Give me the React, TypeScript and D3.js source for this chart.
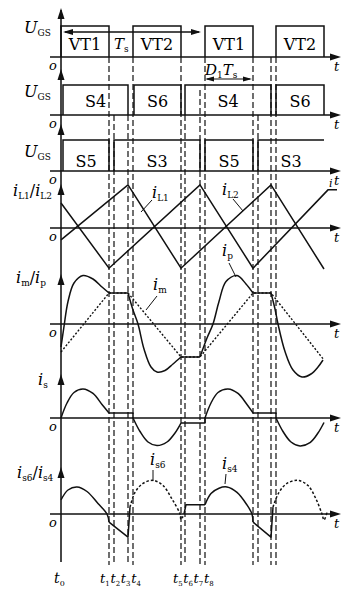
import React from "react";
import * as d3 from "d3";

type Pt = [number, number];
type Piece = { smooth: boolean; dash?: string; p: Pt[] };

// time marks (units from t0), t1..t8 then t1'..t4'
const tMarks = [48, 53, 67, 72, 120, 124, 139, 144, 192, 197, 210, 215];
const tMarkTop = [57, 115, 115, 57, 57, 115, 90, 57, 57, 115, 57, 57];

// gate pulses [start, end, label, closedRight]
const vtPulses: [number, number, string, boolean][] = [
  [0, 48, "VT1", true], [72, 120, "VT2", true], [144, 192, "VT1", true], [215, 263, "VT2", true],
];
const s46Pulses: [number, number, string, boolean][] = [
  [2, 67, "S4", true], [73, 120, "S6", true], [124, 210, "S4", true], [215, 263, "S6", true],
];
const s53Pulses: [number, number, string, boolean][] = [
  [2, 48, "S5", true], [53, 139, "S3", true], [144, 192, "S5", true], [197, 263, "S3", false],
];

// bottom time labels
const tLabelsA = ["1", "2", "3", "4"];
const tLabelsB = ["5", "6", "7", "8"];

// inductor currents
const iL1: Pt[] = [[0, 0.61], [48, -0.98], [139, 1.05], [192, -0.98], [267, 0.93], [276, 0.93]];
const iL2: Pt[] = [[0, -0.29], [67, 1.05], [120, -0.98], [210, 1.05], [263, -1.0]];

// magnetizing / primary current
const im: Pt[] = [[0, -0.56], [48, 0.62], [67, 0.62], [120, -0.66], [139, -0.66], [192, 0.62], [210, 0.62], [263, -0.72]];
const ip: Piece[] = [
  { smooth: true, p: [[0, -0.46], [3, -0.05], [7, 0.45], [13, 0.82], [22, 0.97], [32, 0.9], [41, 0.74], [48, 0.62]] },
  { smooth: false, p: [[48, 0.62], [67, 0.62]] },
  { smooth: true, p: [[67, 0.62], [72, 0.28], [77, 0], [83, -0.5], [90, -0.86], [96, -0.96], [104, -0.93], [112, -0.8], [120, -0.66]] },
  { smooth: false, p: [[120, -0.66], [139, -0.66]] },
  { smooth: true, p: [[139, -0.66], [146, -0.28], [152, 0], [158, 0.45], [165, 0.85], [176, 0.97], [185, 0.8], [192, 0.62]] },
  { smooth: false, p: [[192, 0.62], [210, 0.62]] },
  { smooth: true, p: [[210, 0.62], [214, 0.3], [217, 0], [224, -0.55], [232, -0.92], [241, -1.06], [250, -1.0], [257, -0.86], [262, -0.72]] },
];

// secondary current
const is: Piece[] = [
  { smooth: true, p: [[0, 0], [6, 0.5], [13, 0.85], [22, 0.97], [32, 0.82], [41, 0.45], [48, 0.17]] },
  { smooth: false, p: [[48, 0.17], [72, 0.17], [72, 0]] },
  { smooth: true, p: [[72, 0], [79, -0.45], [87, -0.8], [96, -0.92], [106, -0.8], [114, -0.5], [120, -0.17]] },
  { smooth: false, p: [[120, -0.17], [144, -0.17], [144, 0]] },
  { smooth: true, p: [[144, 0], [150, 0.5], [157, 0.85], [167, 0.97], [177, 0.82], [186, 0.45], [192, 0.17]] },
  { smooth: false, p: [[192, 0.17], [215, 0.17], [215, 0]] },
  { smooth: true, p: [[215, 0], [222, -0.45], [230, -0.8], [239, -0.93], [249, -0.82], [257, -0.5], [263, -0.15]] },
];

// rectifier currents
const is64: Piece[] = [
  { smooth: true, p: [[0, 0.47], [7, 0.8], [16, 0.9], [26, 0.75], [37, 0.35], [46, 0], [48, -0.27]] },
  { smooth: false, p: [[48, -0.27], [67, -0.77], [69, 0.23]] },
  { smooth: true, dash: "2.5,2", p: [[69, 0.23], [74, 0.72], [82, 1.02], [92, 1.12], [102, 0.95], [111, 0.5], [119, 0], [120, -0.18], [122, -0.08]] },
  { smooth: false, p: [[123, 0], [125, 0.31], [144, 0.31]] },
  { smooth: true, p: [[144, 0.31], [150, 0.68], [158, 0.86], [166, 0.9], [176, 0.72], [186, 0.3], [191, 0], [192, -0.27]] },
  { smooth: false, p: [[192, -0.27], [210, -0.77], [212, 0.23]] },
  { smooth: true, dash: "2.5,2", p: [[212, 0.23], [218, 0.72], [226, 1.02], [237, 1.12], [247, 0.95], [255, 0.5], [261, 0], [263, -0.2], [266, 0.05]] },
];

const FONT = "DejaVu Serif";

const X = d3.scaleLinear().domain([0, 280]).range([61, 341]);

const bases = [57, 115, 171, 228, 324, 418, 514];
const axisTips = [8, 69, 124, 184, 274, 374, 467];

const yIL = d3.scaleLinear().domain([-1, 1]).range([228 + 41, 228 - 41]);
const yImp = d3.scaleLinear().domain([-1, 1]).range([374, 274]);
const yIs = d3.scaleLinear().domain([-1, 1]).range([448, 388]);
const yIs64 = d3.scaleLinear().domain([-1, 1]).range([544, 484]);

const Sym = ({ x, y, m, s, size = 16, sub = 10 }: { x: number; y: number; m: string; s?: string; size?: number; sub?: number }) => (
  <text x={x} y={y} fontFamily={FONT} fontSize={size}>
    <tspan fontStyle="italic">{m}</tspan>
    {s ? <tspan fontSize={sub} dy={3}>{s}</tspan> : null}
  </text>
);

const Pair = ({ x, y, a, b, size = 16 }: { x: number; y: number; a: string; b: string; size?: number }) => (
  <text x={x} y={y} fontFamily={FONT} fontSize={size}>
    <tspan fontStyle="italic">i</tspan>
    <tspan fontSize={9} dy={3}>{a}</tspan>
    <tspan dy={-3}>/</tspan>
    <tspan fontStyle="italic">i</tspan>
    <tspan fontSize={9} dy={3}>{b}</tspan>
  </text>
);

function pieces(list: Piece[], y: d3.ScaleLinear<number, number>, key: string) {
  return list.map((pc, i) => {
    const gen = d3
      .line<Pt>()
      .x((d) => X(d[0]))
      .y((d) => y(d[1]))
      .curve(pc.smooth ? d3.curveCatmullRom.alpha(0.5) : d3.curveLinear);
    return (
      <path key={key + i} d={gen(pc.p) || ""} fill="none" stroke="#111" strokeWidth={1.5}
        strokeDasharray={pc.dash} strokeLinejoin="round" />
    );
  });
}

function gates(list: [number, number, string, boolean][], base: number, h: number, textY: number, key: string) {
  const y = d3.scaleLinear().domain([0, 1]).range([base, base - h]);
  return list.map(([a, b, lab, closed], i) => {
    const d = `M${X(a)},${y(0)}V${y(1)}H${X(b)}` + (closed ? `V${y(0)}` : "");
    return (
      <g key={key + i}>
        <path d={d} fill="none" stroke="#111" strokeWidth={1.5} />
        <text x={(X(a) + X(b)) / 2} y={textY} textAnchor="middle" fontFamily={FONT} fontSize={16}>{lab}</text>
      </g>
    );
  });
}

export default function App() {
  const lin = (y: d3.ScaleLinear<number, number>) =>
    d3.line<Pt>().x((d) => X(d[0])).y((d) => y(d[1]));

  return (
    <svg width={341} height={589} style={{ position: "absolute", left: 0, top: 0, background: "#fff" }}>
      {/* dashed time marks */}
      {tMarks.map((t, i) => (
        <line key={"tm" + i} x1={X(t)} x2={X(t)} y1={tMarkTop[i]} y2={565} stroke="#222"
          strokeWidth={1.3} strokeDasharray="6,3" />
      ))}

      {/* vertical axis */}
      <line x1={61} x2={61} y1={10} y2={562} stroke="#333" strokeWidth={1.8} />
      {axisTips.map((t, i) => (
        <path key={"at" + i} d={`M61,${t}L57.5,${t + 11}L64.5,${t + 11}Z`} fill="#111" />
      ))}

      {/* baselines */}
      {bases.map((b, i) => (
        <g key={"b" + i}>
          <line x1={50} x2={334} y1={b} y2={b} stroke="#111" strokeWidth={1.7} />
          <path d={`M341,${b}L330,${b - 3.5}L330,${b + 3.5}Z`} fill="#111" />
          <text x={49} y={b + 13} fontFamily={FONT} fontSize={13} fontStyle="italic">o</text>
          <text x={334} y={b + 14} fontFamily={FONT} fontSize={13} fontStyle="italic">t</text>
        </g>
      ))}

      {/* gate signals */}
      {gates(vtPulses, 57, 31, 50, "vt")}
      {gates(s46Pulses, 115, 30, 107, "s46")}
      {gates(s53Pulses, 171, 31, 167, "s53")}

      {/* Ts arrow */}
      <line x1={65} x2={199} y1={32} y2={32} stroke="#111" strokeWidth={1.3} />
      <path d="M63,32L73,29L73,35Z" fill="#111" />
      <path d="M201,32L191,29L191,35Z" fill="#111" />
      <Sym x={114} y={49} m="T" s="s" size={15} sub={9} />

      {/* D1Ts arrow */}
      <line x1={207} x2={250} y1={79} y2={79} stroke="#111" strokeWidth={1.2} />
      <path d="M205,79L214,76.5L214,81.5Z" fill="#111" />
      <path d="M252,79L243,76.5L243,81.5Z" fill="#111" />
      <text x={205} y={75} fontFamily={FONT} fontSize={15}>
        <tspan fontStyle="italic">D</tspan>
        <tspan fontSize={9} dy={3}>1</tspan>
        <tspan fontStyle="italic" dy={-3}>T</tspan>
        <tspan fontSize={9} dy={3}>s</tspan>
      </text>

      {/* U_GS labels */}
      {[33, 97, 157].map((y, i) => (
        <Sym key={"u" + i} x={24} y={y} m="U" s="GS" size={16} sub={9} />
      ))}

      {/* iL1 / iL2 */}
      <path d={lin(yIL)(iL1) || ""} fill="none" stroke="#111" strokeWidth={1.5} />
      <path d={lin(yIL)(iL2) || ""} fill="none" stroke="#111" strokeWidth={1.5} />
      <Pair x={13} y={196} a="L1" b="L2" size={16} />
      <Sym x={152} y={198} m="i" s="L1" size={16} sub={9} />
      <line x1={152} y1={200} x2={141} y2={212} stroke="#111" strokeWidth={1} />
      <Sym x={222} y={195} m="i" s="L2" size={16} sub={9} />
      <line x1={233} y1={199} x2={243} y2={211} stroke="#111" strokeWidth={1} />
      <text x={329} y={187} fontFamily={FONT} fontSize={11} fontStyle="italic">i</text>

      {/* im / ip */}
      <path d={lin(yImp)(im) || ""} fill="none" stroke="#111" strokeWidth={1.4} strokeDasharray="2,1.8" />
      {pieces(ip, yImp, "ip")}
      <Pair x={16} y={283} a="m" b="p" size={16} />
      <Sym x={153} y={290} m="i" s="m" size={16} sub={9} />
      <line x1={157} y1={296} x2={146} y2={310} stroke="#111" strokeWidth={1} />
      <Sym x={222} y={256} m="i" s="p" size={16} sub={9} />
      <line x1={229} y1={263} x2={236} y2={277} stroke="#111" strokeWidth={1} />

      {/* is */}
      {pieces(is, yIs, "is")}
      <Sym x={38} y={385} m="i" s="s" size={16} sub={9} />

      {/* is6 / is4 */}
      {pieces(is64, yIs64, "s64")}
      <Pair x={17} y={478} a="s6" b="s4" size={16} />
      <Sym x={150} y={465} m="i" s="s6" size={16} sub={9} />
      <line x1={153} y1={470} x2={153} y2={481} stroke="#111" strokeWidth={1} />
      <Sym x={222} y={469} m="i" s="s4" size={16} sub={9} />
      <line x1={226} y1={474} x2={225} y2={484} stroke="#111" strokeWidth={1} />

      {/* bottom time labels */}
      <Sym x={54} y={583} m="t" s="0" size={14} sub={8} />
      {tLabelsA.map((s, i) => (
        <Sym key={"ta" + i} x={100 + i * 10.4} y={583} m="t" s={s} size={13} sub={7} />
      ))}
      {tLabelsB.map((s, i) => (
        <Sym key={"tb" + i} x={173 + i * 10.3} y={583} m="t" s={s} size={13} sub={7} />
      ))}
    </svg>
  );
}
